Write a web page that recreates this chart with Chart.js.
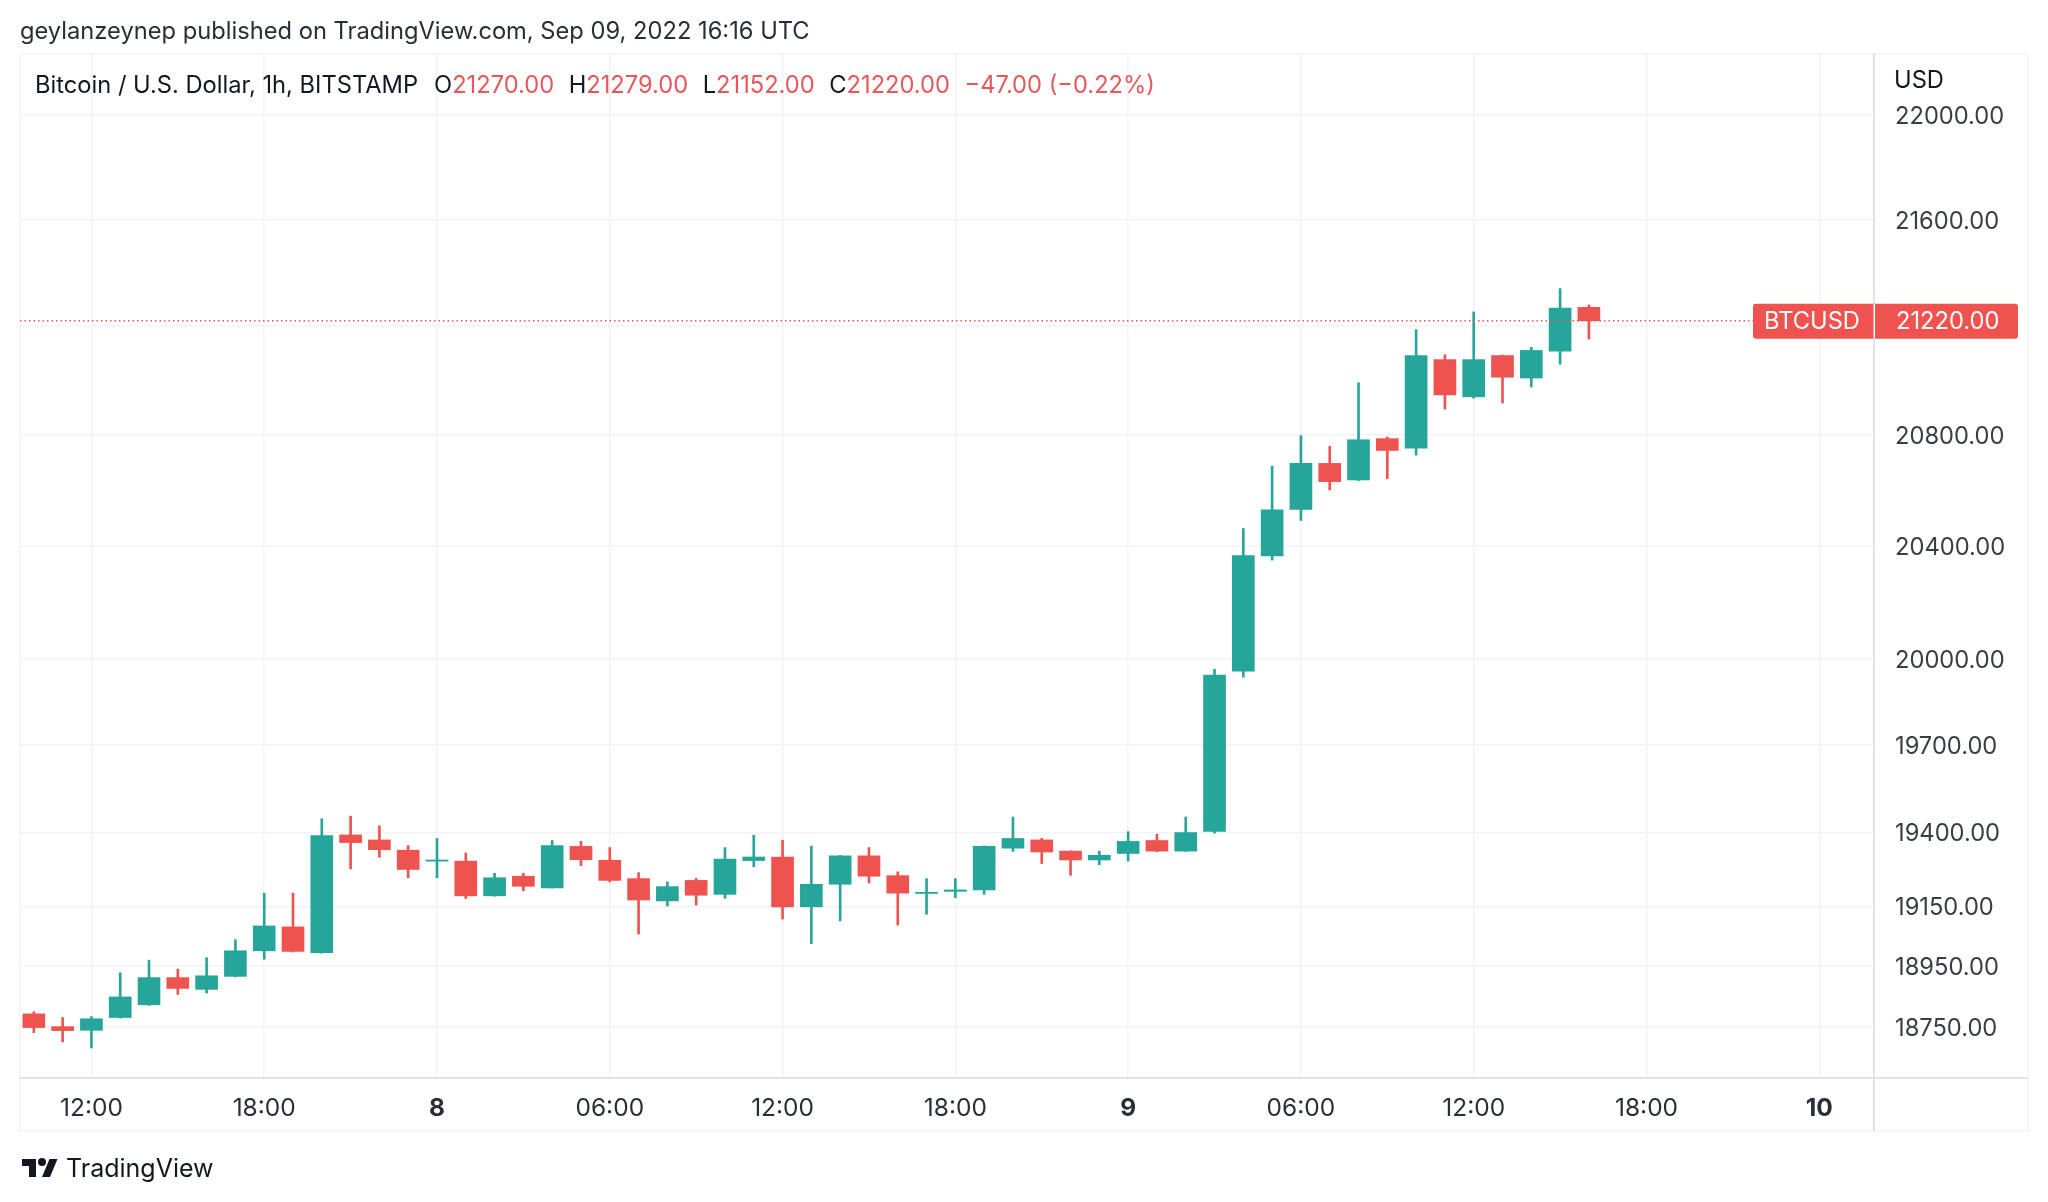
<!DOCTYPE html>
<html>
<head>
<meta charset="utf-8">
<title>BTCUSD</title>
<script src="https://cdn.jsdelivr.net/npm/chart.js@4"></script>
<style>
  html, body { margin: 0; padding: 0; background: #fff; }
  body { width: 2048px; height: 1202px; position: relative; overflow: hidden;
         font-family: Inter, "Noto Sans", sans-serif; color: #131722; }
  canvas { position: absolute; left: 0; top: 0; }
  .txt { position: absolute; white-space: nowrap; font-size: 23.7px; line-height: 30px; }
  .red { color: #e8575a; }
  #published { left: 20px; top: 16px; color: #2a2e39; }
  #symbol { left: 35px; top: 70px; }
  #ohlc { left: 434px; top: 70px; }
  #ohlc b { font-weight: 400; margin-left: 14.5px; }
  #ohlc b:first-child { margin-left: 0; }
  #unit { left: 1894px; top: 65px; }
  #brand { left: 66px; top: 1153px; font-size: 25px; }
  #logo { position: absolute; left: 20px; top: 1155px; width: 40px; height: 28px; fill: #131722; }
</style>
</head>
<body>
<canvas id="btcChart" width="2048" height="1202"></canvas>
<div class="txt" id="published">geylanzeynep published on TradingView.com, Sep 09, 2022 16:16 UTC</div>
<div class="txt" id="symbol">Bitcoin / U.S. Dollar, 1h, BITSTAMP</div>
<div class="txt" id="ohlc"><b>O<span class="red">21270.00</span></b><b>H<span class="red">21279.00</span></b><b>L<span class="red">21152.00</span></b><b>C<span class="red">21220.00</span></b><b class="red">−47.00 (−0.22%)</b></div>
<div class="txt" id="unit">USD</div>
<svg id="logo" viewBox="0 0 36 28"><path d="M14 22H7V11H0V4h14v18zM28 22h-8l7.5-18h8L28 22z"/><circle cx="20" cy="7" r="4"/></svg>
<div class="txt" id="brand">TradingView</div>

<script>
// hourly candles, first one is Sep 7 10:00 UTC
const open = [18792,18750,18738,18780,18822,18912,18873,18916,19001,19081,
  18995,19391,19374,19339,19302,19302,19185,19251,19212,19352,
  19305,19243,19168,19237,19190,19304,19316,19148,19224,19320,
  19253,19193,19200,19205,19346,19374,19336,19306,19328,19372,
  19336,19403,19956,20363,20530,20696,20636,20786,20751,21076,
  20939,21091,21008,21107,21270];
const high = [18799,18780,18783,18928,18970,18940,18978,19038,19194,19194,
  19446,19455,19422,19355,19379,19330,19261,19261,19372,19369,
  19348,19263,19232,19244,19348,19390,19373,19353,19322,19348,
  19266,19243,19243,19354,19452,19379,19337,19336,19402,19393,
  19452,19962,20461,20686,20797,20758,20991,20792,21187,21094,
  21253,21093,21121,21340,21279];
const low = [18730,18700,18680,18778,18820,18856,18861,18914,18973,18997,
  18993,19276,19315,19246,19246,19176,19184,19202,19211,19287,
  19232,19057,19151,19154,19177,19283,19107,19025,19101,19228,
  19087,19123,19179,19190,19335,19294,19254,19290,19302,19334,
  19335,19397,19935,20348,20490,20600,20634,20641,20726,20894,
  20934,20916,20975,21059,21152];
const close = [18747,18737,18776,18848,18912,18876,18918,19001,19084,18999,
  19389,19365,19341,19274,19306,19185,19246,19217,19355,19307,
  19237,19171,19216,19187,19309,19316,19148,19224,19320,19251,
  19194,19197,19205,19352,19379,19333,19306,19322,19369,19336,
  19399,19942,20364,20528,20696,20630,20782,20743,21091,20946,
  21076,21011,21110,21267,21220];

const yTicks = [22000,21600,21200,20800,20400,20000,19700,19400,19150,18950,18750];
const xTicks = [2,8,14,20,26,32,38,44,50,56,62];
const xLabels = ['12:00','18:00','8','06:00','12:00','18:00','9','06:00','12:00','18:00','10'];
const dayLabels = ['8','9','10'];
const lastPrice = 21220;
const symbolName = 'BTCUSD';

const green = '#26a69a', red = '#ef5350';
const gridColor = '#f2f3f5', axisColor = '#e2e3e6';
const xMin = -0.48, xMax = 63.9;
const candleColors = open.map((o, i) => close[i] >= o ? green : red);

// frame around the chart, axis lines running on into the corners, price badge
const extras = {
    id: 'extras',
    beforeDraw(chart) {
        const c = chart.ctx;
        const a = chart.chartArea;
        c.save();
        c.strokeStyle = gridColor;
        c.lineWidth = 1.5;
        c.strokeRect(20, 54, 2008, 1077);
        c.strokeStyle = axisColor;
        c.lineWidth = 2;
        c.beginPath();
        c.moveTo(a.right, a.bottom);
        c.lineTo(2028, a.bottom);
        c.moveTo(a.right, a.bottom);
        c.lineTo(a.right, 1131);
        c.stroke();
        c.restore();
    },
    afterDraw(chart) {
        const c = chart.ctx;
        const y = chart.scales.y.getPixelForValue(lastPrice);
        const split = chart.chartArea.right;
        c.save();
        c.fillStyle = red;
        c.beginPath();
        c.roundRect(1753, y - 17, 265, 35, 3);
        c.fill();
        c.fillStyle = '#fff';
        c.fillRect(split - 0.5, y - 17, 1.5, 35);
        c.font = '23.7px Inter';
        c.textBaseline = 'middle';
        c.fillText(symbolName, 1764, y + 1);
        c.fillText(lastPrice.toFixed(2), 1896, y + 1);
        c.restore();
    }
};

const tickFont = ctx => {
    const label = ctx.tick ? xLabels[xTicks.indexOf(ctx.tick.value)] : '';
    return { family: 'Inter', size: 24.5, weight: dayLabels.includes(label) ? 700 : 400 };
};

new Chart(document.getElementById('btcChart'), {
    type: 'bar',
    data: {
        datasets: [
            {
                type: 'line',
                data: [{x: xMin, y: lastPrice}, {x: xMax, y: lastPrice}],
                borderColor: red,
                borderWidth: 1.3,
                borderDash: [1.5, 3],
                pointRadius: 0,
                order: 0
            },
            {
                data: open.map((o, i) => ({x: i, y: [o, close[i]]})),
                backgroundColor: candleColors,
                barThickness: 22,
                grouped: false,
                order: 1
            },
            {
                data: open.map((o, i) => ({x: i, y: [low[i], high[i]]})),
                backgroundColor: candleColors,
                barThickness: 2,
                grouped: false,
                order: 2
            }
        ]
    },
    options: {
        responsive: false,
        animation: false,
        devicePixelRatio: 1,
        layout: { padding: { left: 20, top: 54, right: 20, bottom: 71 } },
        plugins: { legend: { display: false }, tooltip: { enabled: false } },
        scales: {
            x: {
                type: 'linear',
                offset: false,
                min: xMin,
                max: xMax,
                afterBuildTicks: s => { s.ticks = xTicks.map(v => ({value: v})); },
                afterFit: s => { s.height = 53; },
                grid: { color: gridColor, lineWidth: 1.5, drawTicks: false, offset: false },
                border: { color: axisColor, width: 2 },
                ticks: {
                    autoSkip: false,
                    maxRotation: 0,
                    padding: 16,
                    color: '#2a2e39',
                    font: tickFont,
                    callback: v => xLabels[xTicks.indexOf(v)]
                }
            },
            y: {
                type: 'logarithmic',
                position: 'right',
                min: 18582,
                max: 22236,
                afterBuildTicks: s => { s.ticks = yTicks.map(v => ({value: v})); },
                afterFit: s => { s.width = 154; },
                grid: { color: gridColor, lineWidth: 1.5, drawTicks: false },
                border: { color: axisColor, width: 2 },
                ticks: {
                    padding: 21,
                    labelOffset: 2,
                    align: 'center',
                    crossAlign: 'near',
                    color: '#3a3d45',
                    font: { family: 'Inter', size: 23.7 },
                    callback: v => v.toFixed(2)
                }
            }
        }
    },
    plugins: [extras]
});
</script>
</body>
</html>
